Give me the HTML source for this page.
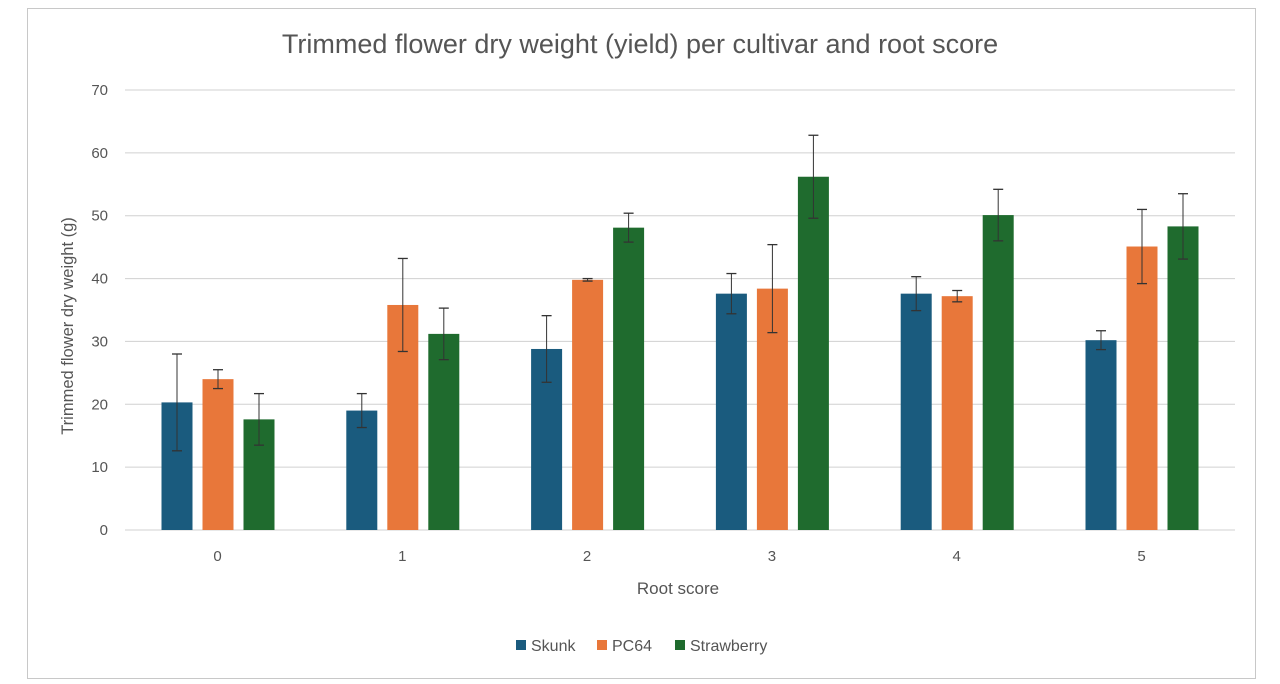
<!DOCTYPE html>
<html><head><meta charset="utf-8"><style>
html,body{margin:0;padding:0;background:#fff;}
svg{display:block;font-family:"Liberation Sans",sans-serif;}
</style></head><body>
<svg id="c" width="1280" height="684" viewBox="0 0 1280 684">
<rect x="0" y="0" width="1280" height="684" fill="#fff"/>
<rect x="27.5" y="8.5" width="1228" height="670" fill="none" stroke="#c8c8c8"/>
<text x="640" y="53" text-anchor="middle" font-size="27" fill="#555">Trimmed flower dry weight (yield) per cultivar and root score</text>
<text transform="translate(73,326) rotate(-90)" text-anchor="middle" font-size="16.5" fill="#555">Trimmed flower dry weight (g)</text>
<text x="678" y="594" text-anchor="middle" font-size="17" fill="#555">Root score</text>
<g font-size="16" fill="#555">
<rect x="516" y="640" width="10" height="10" fill="#1a5b7e"/><text x="531" y="651">Skunk</text>
<rect x="597" y="640" width="10" height="10" fill="#e8773a"/><text x="612" y="651">PC64</text>
<rect x="675" y="640" width="10" height="10" fill="#1f6b2e"/><text x="690" y="651">Strawberry</text>
</g>
<g id="g"></g>
</svg>
<script>
const g=document.getElementById('g');let s='';
const y=v=>530-v*440/70;
for(let i=0;i<=7;i++){const yy=y(i*10);
s+=`<line x1="125" x2="1235" y1="${yy}" y2="${yy}" stroke="#d0d0d0" stroke-width="1"/>`;
s+=`<text x="108" y="${yy+5}" text-anchor="end" font-size="15" fill="#555">${i*10}</text>`;}
const d=[[20.3,24,17.6],[19,35.8,31.2],[28.8,39.8,48.1],[37.6,38.4,56.2],[37.6,37.2,50.1],[30.2,45.1,48.3]];
const e=[[7.7,1.5,4.1],[2.7,7.4,4.1],[5.3,0.2,2.3],[3.2,7,6.6],[2.7,0.9,4.1],[1.5,5.9,5.2]];
const col=['#1a5b7e','#e8773a','#1f6b2e'];
for(let c=0;c<6;c++){const cx=217.5+c*184.8;
s+=`<text x="${cx}" y="561" text-anchor="middle" font-size="15" fill="#555">${c}</text>`;
for(let k=0;k<3;k++){const x0=cx-56+k*41;const v=d[c][k],er=e[c][k];
s+=`<rect x="${x0}" y="${y(v)}" width="31" height="${530-y(v)}" fill="${col[k]}"/>`;
const mx=x0+15.5;
s+=`<line x1="${mx}" x2="${mx}" y1="${y(v+er)}" y2="${y(v-er)}" stroke="#333" stroke-width="1"/>`;
s+=`<line x1="${mx-5}" x2="${mx+5}" y1="${y(v+er)}" y2="${y(v+er)}" stroke="#333" stroke-width="1.3"/>`;
s+=`<line x1="${mx-5}" x2="${mx+5}" y1="${y(v-er)}" y2="${y(v-er)}" stroke="#333" stroke-width="1.3"/>`;}}
g.innerHTML=s;
</script>
</body></html>
